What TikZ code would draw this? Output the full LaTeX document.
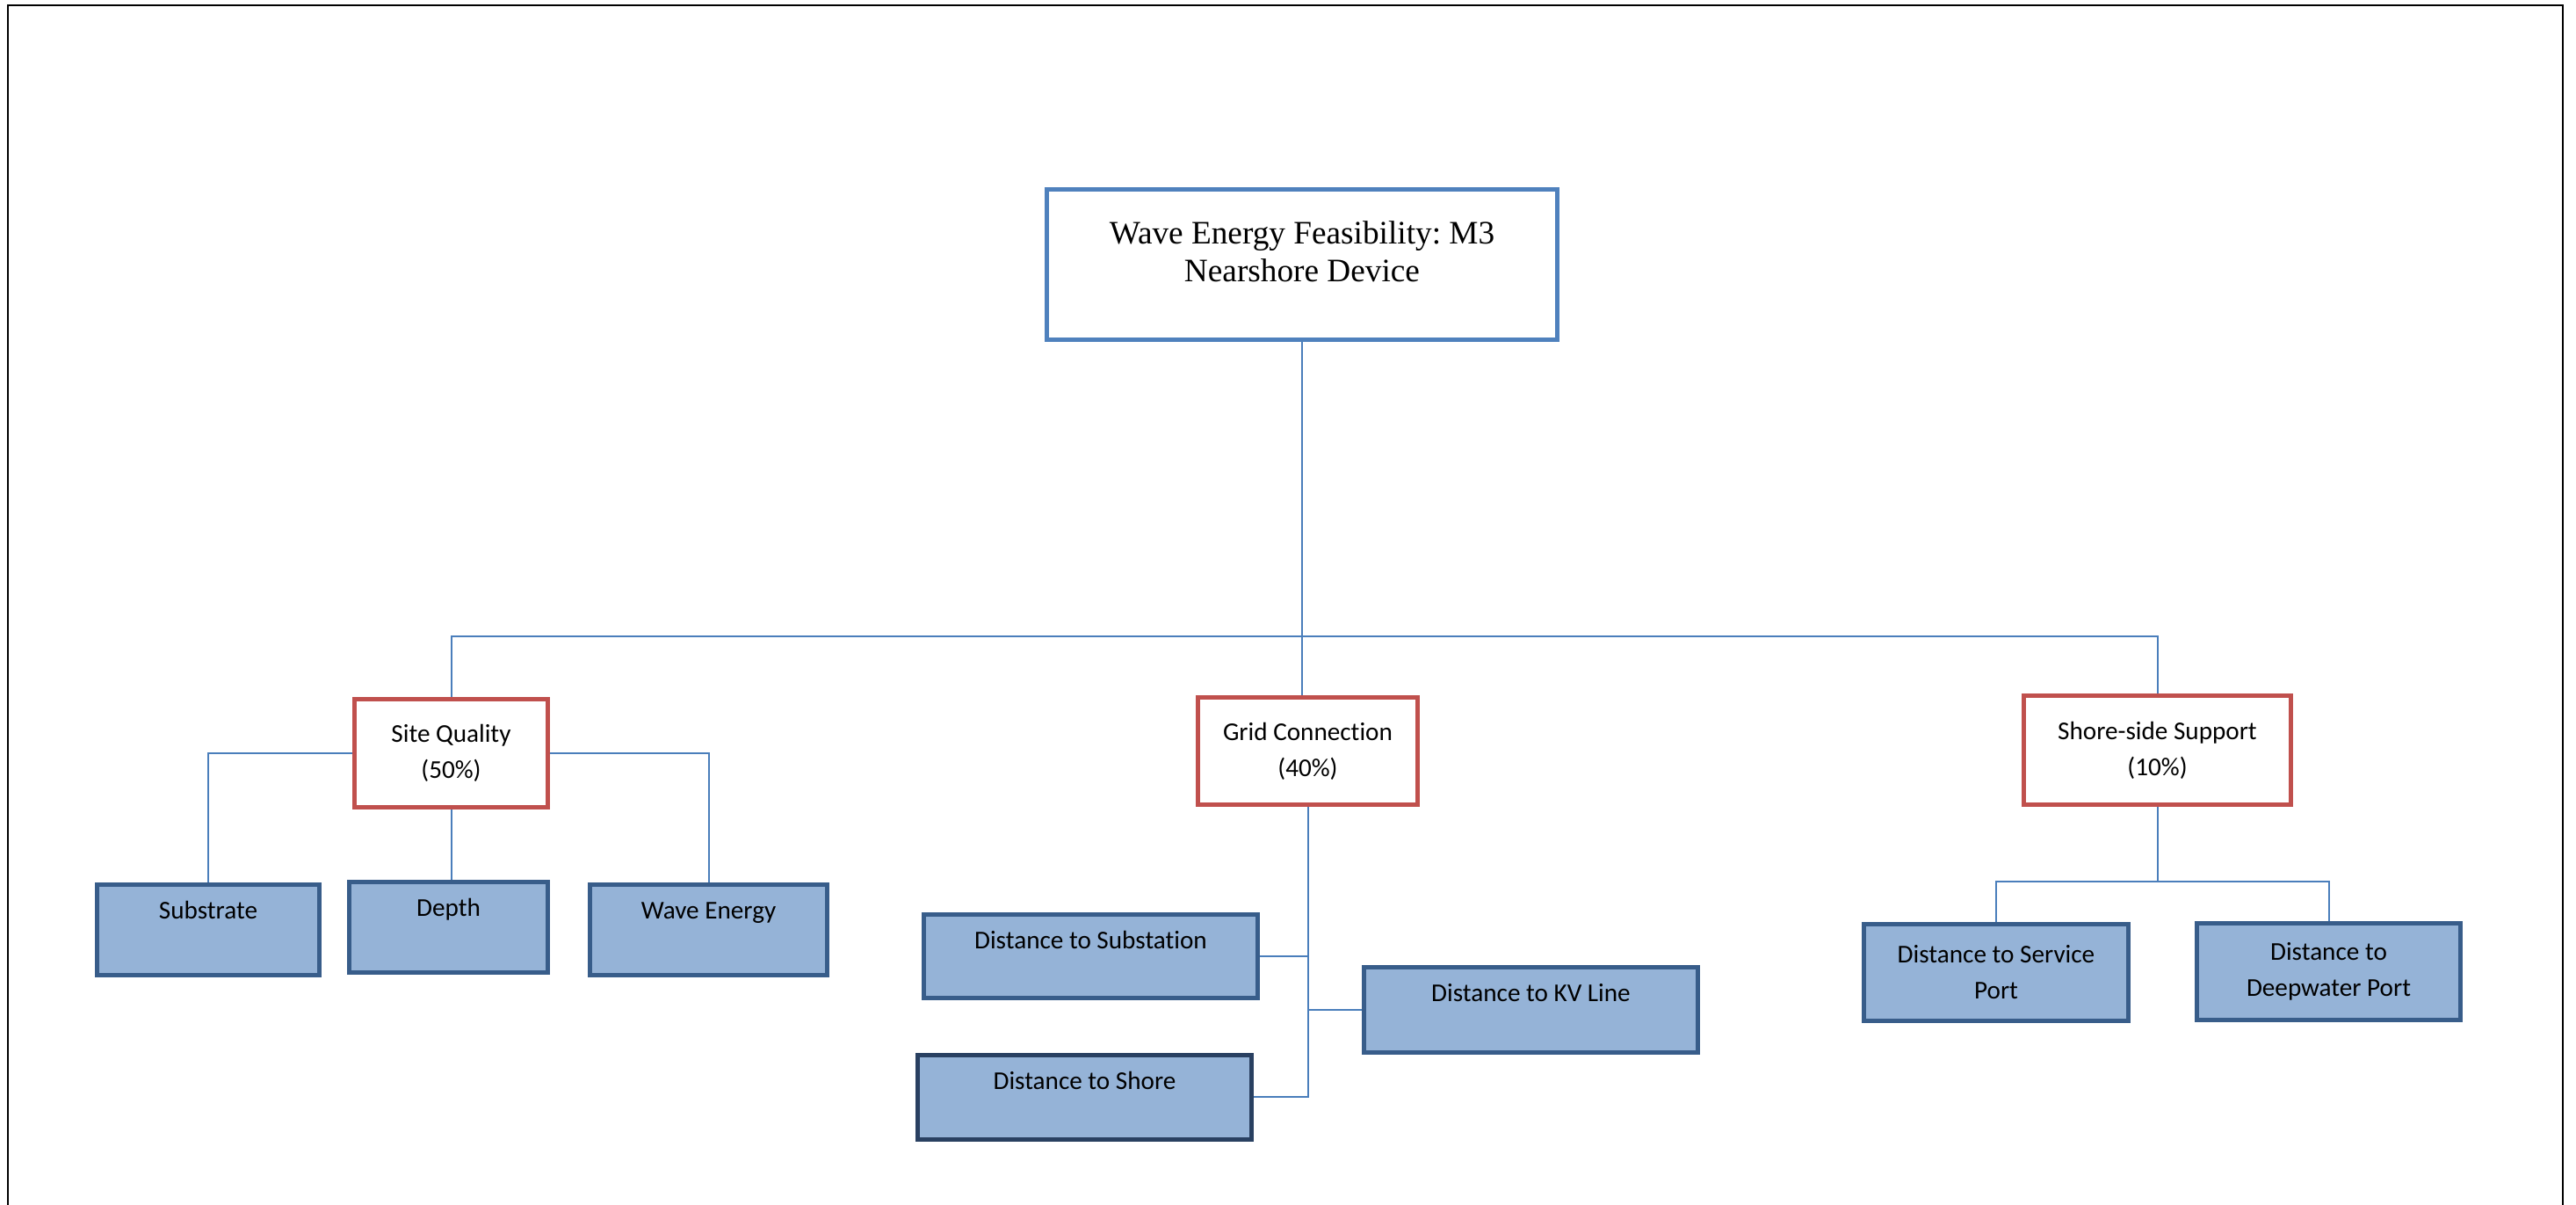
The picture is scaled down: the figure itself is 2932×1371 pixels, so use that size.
\documentclass[tikz,border=0pt]{standalone}
\usepackage{fontspec}
\setmainfont{Liberation Serif}
\newfontfamily\calibri[Ligatures=NoCommon]{Carlito}
\frenchspacing
\definecolor{headblue}{RGB}{79,129,189}
\definecolor{critred}{RGB}{192,80,77}
\definecolor{leaffill}{RGB}{149,179,215}
\definecolor{leafedge}{RGB}{56,93,138}
\definecolor{leafdark}{RGB}{41,64,97}
\definecolor{linkblue}{RGB}{74,126,187}
\usetikzlibrary{positioning,calc}

\begin{document}
\begin{tikzpicture}[x=0.01cm, y=-0.01cm,
    headbox/.style={draw=headblue, line width=0.05cm, fill=white, inner sep=0pt,
      minimum width=5.81cm, text height=1.055cm, text depth=0.658cm, align=center,
      font=\fontsize{10.6pt}{12.2pt}\selectfont},
    critbox/.style={draw=critred, line width=0.05cm, fill=white, inner sep=0pt,
      minimum height=1.23cm, align=center, font=\calibri\fontsize{8.3pt}{11.7pt}\selectfont},
    leafbox/.style={draw=leafedge, line width=0.05cm, fill=leaffill, inner sep=0pt,
      align=center, font=\calibri\fontsize{8.3pt}{11.7pt}\selectfont},
    leafone/.style={leafbox, text height=0.395cm},
    link/.style={draw=linkblue, line width=0.02cm}]
  \useasboundingbox (0,0) rectangle (2932,1371);
  % page frame
  \draw[line width=0.027cm] (9,1371) -- (9,6) -- (2917,6) -- (2917,1371);

  % goal
  \node[headbox] (wef) at (1482,301) {Wave Energy Feasibility: M3\\Nearshore Device};

  % criteria
  \node[critbox, minimum width=2.20cm] (site) at (513.5,857) {Site Quality\\(50\%)};
  \node[critbox, minimum width=2.50cm, minimum height=1.22cm] (grid) at (1488.5,854.5) {Grid Connection\\(40\%)};
  \node[critbox, minimum width=3.04cm, minimum height=1.24cm] (shsup) at (2455.5,853.7) {Shore-side Support\\(10\%)};

  % site quality factors
  \node[leafone, minimum width=2.53cm, text depth=0.635cm] (subst) at (237,1058) {Substrate};
  \node[leafone, minimum width=2.26cm, text depth=0.635cm] (depth) at (510.5,1055) {Depth};
  \node[leafone, minimum width=2.70cm, text depth=0.635cm] (wave) at (806.5,1058) {Wave Energy};

  % grid factors
  \node[leafone, minimum width=3.80cm, text depth=0.555cm] (dsub) at (1241.5,1088) {Distance to Substation};
  \node[leafone, minimum width=3.80cm, text depth=0.575cm] (dkv) at (1742.5,1149) {Distance to KV Line};
  \node[leafone, draw=leafdark, minimum width=3.80cm, text depth=0.565cm] (dshore) at (1234.5,1248.5) {Distance to Shore};

  % shore-side factors
  \node[leafbox, minimum width=3.01cm, minimum height=1.10cm] (dserv) at (2272,1106.5) {Distance to Service\\Port};
  \node[leafbox, minimum width=3.00cm, minimum height=1.10cm] (ddeep) at (2650.5,1105.5) {Distance to\\Deepwater Port};

  % connectors
  \coordinate (bus) at (1482,724);
  \coordinate (fork) at (2455,1003);
  \draw[link] (wef.south) -- (wef.south |- bus);
  \draw[link] (site.north) -- (site.north |- bus) -- (shsup.north |- bus) -- (shsup.north);
  \draw[link] (wef.south |- bus) -- (wef.south |- grid.north);
  \draw[link] (site.west) -| (subst.north);
  \draw[link] (site.east) -| (wave.north);
  \draw[link] (site.south) -- (site.south |- depth.north);
  \draw[link] (grid.south) |- (dshore.east);
  \draw[link] (dsub.east) -- (dsub.east -| grid.south);
  \draw[link] (dkv.west) -- (dkv.west -| grid.south);
  \draw[link] (shsup.south) -- (shsup.south |- fork);
  \draw[link] (dserv.north) |- (fork) -| (ddeep.north);
\end{tikzpicture}
\end{document}
